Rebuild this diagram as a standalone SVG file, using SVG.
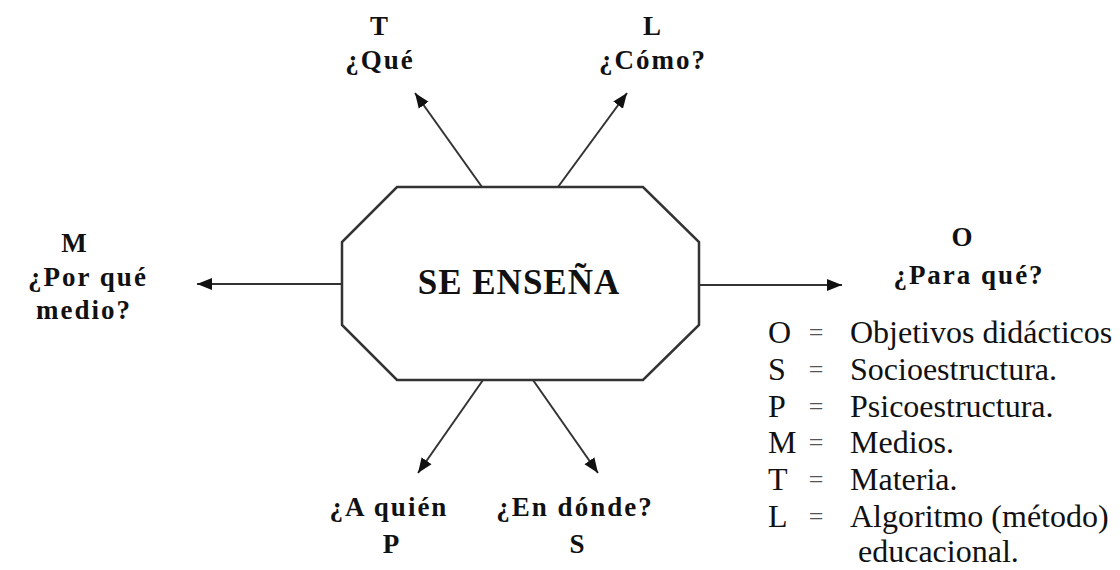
<svg xmlns="http://www.w3.org/2000/svg" width="1120" height="570" viewBox="0 0 1120 570">
  <style>
    .lbl { font-family: "Liberation Serif", "Times New Roman", serif; font-weight: bold; font-size: 27px; letter-spacing: 2px; fill: #111; text-anchor: middle; }
    .title { font-family: "Liberation Serif", "Times New Roman", serif; font-weight: bold; font-size: 35px; letter-spacing: 1px; fill: #111; text-anchor: middle; }
    .leg { font-family: "Liberation Serif", "Times New Roman", serif; font-size: 32px; fill: #111; }
    .eq { font-family: "Liberation Serif", "Times New Roman", serif; font-size: 26px; fill: #555; text-anchor: middle; }
    .conn { stroke: #333; stroke-width: 2; fill: none; marker-end: url(#arr); }
    .shape { fill: #fff; stroke: #333; stroke-width: 2.5; }
  </style>
  <defs>
    <marker id="arr" markerUnits="userSpaceOnUse" markerWidth="16" markerHeight="14" refX="15" refY="7" orient="auto">
      <path d="M0,1 L15,7 L0,13 Z" fill="#111"/>
    </marker>
  </defs>
  <rect width="1120" height="570" fill="#fff"/>

  <g id="connectors">
    <line class="conn" x1="482" y1="187" x2="415" y2="93"/>
    <line class="conn" x1="558" y1="187" x2="627" y2="93"/>
    <line class="conn" x1="342" y1="284" x2="197" y2="284"/>
    <line class="conn" x1="699" y1="285" x2="842" y2="285"/>
    <line class="conn" x1="483" y1="380" x2="418" y2="473"/>
    <line class="conn" x1="533" y1="380" x2="598" y2="473"/>
  </g>

  <g id="center">
    <polygon class="shape" points="397,187 643,187 699,242 699,325 643,380 397,380 342,325 342,242"/>
    <text class="title" x="519" y="294">SE ENSEÑA</text>
  </g>

  <g id="node-T">
    <text class="lbl" x="380" y="35">T</text>
    <text class="lbl" x="380" y="69">¿Qué</text>
  </g>
  <g id="node-L">
    <text class="lbl" x="653" y="35">L</text>
    <text class="lbl" x="653" y="69">¿Cómo?</text>
  </g>
  <g id="node-M">
    <text class="lbl" x="75" y="252">M</text>
    <text class="lbl" x="88" y="286">¿Por qué</text>
    <text class="lbl" x="84" y="319">medio?</text>
  </g>
  <g id="node-O">
    <text class="lbl" x="963" y="246">O</text>
    <text class="lbl" x="969" y="284">¿Para qué?</text>
  </g>
  <g id="node-P">
    <text class="lbl" x="389" y="516">¿A quién</text>
    <text class="lbl" x="392" y="553">P</text>
  </g>
  <g id="node-S">
    <text class="lbl" x="575" y="516">¿En dónde?</text>
    <text class="lbl" x="578" y="553">S</text>
  </g>

  <g id="legend">
    <text class="leg" x="768" y="343">O</text>
    <text class="leg" x="768" y="380">S</text>
    <text class="leg" x="768" y="417">P</text>
    <text class="leg" x="768" y="453">M</text>
    <text class="leg" x="768" y="490">T</text>
    <text class="leg" x="768" y="527">L</text>
    <text class="eq" x="816" y="341">=</text>
    <text class="eq" x="816" y="378">=</text>
    <text class="eq" x="816" y="415">=</text>
    <text class="eq" x="816" y="451">=</text>
    <text class="eq" x="816" y="488">=</text>
    <text class="eq" x="816" y="525">=</text>
    <text class="leg" x="850" y="343">Objetivos didácticos</text>
    <text class="leg" x="850" y="380">Socioestructura.</text>
    <text class="leg" x="850" y="417">Psicoestructura.</text>
    <text class="leg" x="850" y="453">Medios.</text>
    <text class="leg" x="850" y="490">Materia.</text>
    <text class="leg" x="850" y="527">Algoritmo (método)</text>
    <text class="leg" x="858" y="562">educacional.</text>
  </g>
</svg>
